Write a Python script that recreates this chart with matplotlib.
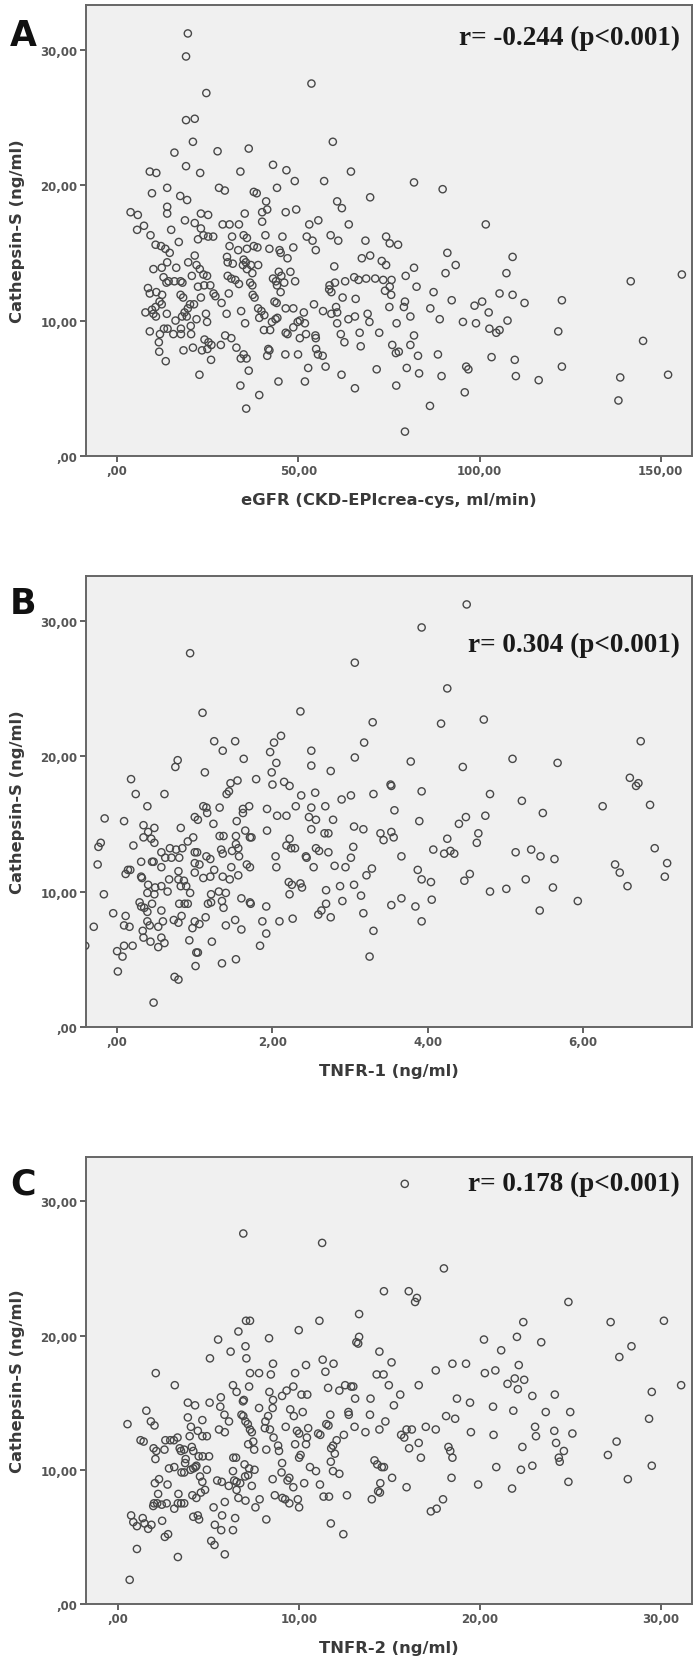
import matplotlib
matplotlib.use("Agg")
import matplotlib.pyplot as plt
from matplotlib.ticker import FuncFormatter

# ---------------------------
# Panel A: eGFR vs Cathepsin-S
# ---------------------------
egfr_a = [
    19.5, 19.0, 53.6, 24.6, 19.0, 21.4, 20.9, 59.5, 36.3, 15.8,
    27.7, 43.0, 19.0, 9.0, 10.8, 22.9, 34.0, 46.7, 64.5, 49.0,
    57.1, 81.9, 89.8, 13.8, 28.1, 29.7, 44.1, 9.6, 37.7, 38.5,
    69.8, 17.4, 19.3, 41.1, 41.4, 60.7, 62.0, 3.7, 5.7, 7.4,
    5.5, 13.8, 13.8, 23.1, 25.1, 35.2, 40.0, 46.5, 49.4, 18.7,
    21.4, 29.1, 31.0, 33.6, 40.0, 53.0, 55.5, 63.9, 101.7, 14.9,
    23.1, 23.8, 9.2, 25.1, 26.5, 31.7, 34.9, 35.8, 40.9, 45.6,
    52.3, 53.9, 58.9, 61.0, 68.5, 74.2, 75.2, 77.5, 17.0, 22.3,
    10.6, 12.1, 13.3, 14.5, 31.0, 33.4, 35.8, 37.7, 38.7, 42.0,
    44.8, 45.1, 48.6, 54.8, 91.1, 109.1, 21.4, 30.3, 30.5, 34.9,
    35.5, 47.0, 67.5, 69.8, 73.0, 74.2, 13.8, 19.6, 21.9, 31.9,
    34.7, 36.9, 38.9, 59.9, 81.9, 93.4, 10.0, 12.3, 16.3, 22.8,
    23.8, 35.8, 37.3, 90.6, 107.4, 155.8, 20.6, 24.8, 30.5, 31.5,
    32.6, 44.6, 45.3, 47.8, 49.1, 12.8, 14.2, 15.8, 17.5, 18.0,
    13.6, 24.0, 25.7, 33.6, 36.7, 37.3, 43.0, 43.8, 46.1, 44.1,
    58.6, 58.5, 59.1, 60.1, 62.9, 65.4, 66.6, 68.7, 71.2, 73.4,
    75.7, 79.6, 75.2, 73.9, 75.6, 82.6, 87.3, 105.5, 109.1, 122.7,
    141.7, 8.5, 9.0, 10.8, 12.4, 17.5, 18.2, 22.3, 26.6, 27.1,
    30.8, 37.4, 37.9, 45.1, 62.2, 65.8, 92.3, 100.7, 98.6, 112.4,
    79.4, 79.1, 43.4, 44.0, 11.7, 12.3, 10.6, 9.6, 20.1, 21.2,
    23.1, 28.8, 38.9, 39.8, 46.5, 48.6, 51.5, 54.3, 56.8, 60.4,
    60.7, 59.1, 65.6, 69.1, 75.1, 86.4, 102.5, 7.8, 10.0, 10.7,
    13.7, 18.6, 19.5, 24.5, 30.2, 34.2, 16.1, 17.9, 19.2, 21.9,
    24.8, 35.3, 39.2, 40.6, 42.7, 43.7, 44.2, 49.8, 50.4, 51.8,
    63.8, 60.7, 69.6, 77.1, 80.9, 89.0, 95.4, 99.0, 107.7, 9.0,
    12.9, 13.9, 11.8, 15.5, 17.6, 17.6, 20.4, 20.3, 29.8, 31.5,
    40.5, 42.2, 46.5, 47.0, 48.6, 50.4, 52.1, 54.7, 54.8, 61.7,
    66.9, 72.3, 81.9, 102.7, 104.6, 105.5, 121.7, 145.1, 11.5, 11.6,
    24.1, 25.2, 26.0, 28.6, 32.9, 41.7, 42.0, 54.9, 62.7, 67.2,
    75.9, 80.9, 18.3, 20.9, 23.4, 24.9, 34.1, 34.9, 35.7, 41.4,
    46.4, 49.9, 55.4, 56.7, 76.9, 77.7, 83.0, 88.5, 103.3, 109.7,
    13.4, 25.9, 57.5, 52.7, 71.6, 79.9, 96.3, 96.9, 122.7, 22.7,
    36.3, 44.5, 51.8, 61.9, 83.3, 89.5, 110.0, 116.3, 138.8, 152.0,
    34.0, 65.6, 77.0, 95.9, 39.2, 138.3, 35.6, 86.3, 79.4,
]
cats_a = [
    31.2, 29.5, 27.5, 26.8, 24.8, 24.9, 23.2, 23.2, 22.7, 22.4,
    22.5, 21.5, 21.4, 21.0, 20.9, 20.9, 21.0, 21.1, 21.0, 20.3,
    20.3, 20.2, 19.7, 19.8, 19.8, 19.6, 19.8, 19.4, 19.5, 19.4,
    19.1, 19.2, 18.9, 18.8, 18.2, 18.8, 18.3, 18.0, 17.8, 17.0,
    16.7, 18.4, 17.9, 17.9, 17.8, 17.9, 18.0, 18.0, 18.2, 17.4,
    17.2, 17.1, 17.1, 17.1, 17.3, 17.1, 17.4, 17.1, 17.1, 16.7,
    16.8, 16.3, 16.3, 16.2, 16.2, 16.2, 16.3, 16.1, 16.3, 16.2,
    16.2, 15.9, 16.3, 15.9, 15.9, 16.2, 15.7, 15.6, 15.8, 16.0,
    15.6, 15.5, 15.3, 15.0, 15.5, 15.2, 15.3, 15.5, 15.4, 15.3,
    15.2, 15.0, 15.4, 15.2, 15.0, 14.7, 14.8, 14.7, 14.3, 14.5,
    14.3, 14.6, 14.6, 14.8, 14.4, 14.1, 14.3, 14.3, 14.1, 14.2,
    14.1, 14.1, 14.1, 14.0, 13.9, 14.1, 13.8, 13.9, 13.9, 13.8,
    13.4, 13.8, 13.5, 13.5, 13.5, 13.4, 13.3, 13.3, 13.3, 13.1,
    13.0, 13.6, 13.3, 13.6, 12.9, 13.2, 12.9, 12.9, 12.9, 12.8,
    12.8, 12.6, 12.6, 12.7, 12.8, 12.6, 13.1, 12.9, 12.8, 12.6,
    12.6, 12.3, 12.1, 12.8, 12.9, 13.2, 13.0, 13.1, 13.1, 13.0,
    13.0, 13.3, 12.5, 12.2, 11.9, 12.5, 12.1, 12.0, 11.9, 11.5,
    12.9, 12.4, 12.0, 12.1, 11.9, 11.9, 11.7, 12.5, 12.0, 11.8,
    12.0, 11.9, 11.7, 12.1, 11.7, 11.6, 11.5, 11.4, 11.1, 11.3,
    11.4, 11.0, 11.4, 11.3, 11.4, 11.2, 11.0, 10.8, 11.2, 11.2,
    11.7, 11.3, 10.9, 10.7, 10.9, 10.9, 10.6, 11.2, 10.7, 11.0,
    10.6, 10.5, 10.3, 10.5, 11.0, 10.9, 10.6, 10.6, 10.5, 10.3,
    10.5, 10.6, 10.9, 10.5, 10.5, 10.7, 10.0, 10.3, 10.3, 10.1,
    9.9, 9.8, 10.2, 10.4, 9.9, 10.1, 10.2, 9.9, 10.0, 9.8,
    10.1, 9.8, 9.9, 9.8, 10.3, 10.1, 9.9, 9.8, 10.0, 9.2,
    9.4, 9.4, 9.0, 9.0, 9.4, 9.0, 9.0, 9.6, 8.9, 8.7,
    9.3, 9.3, 9.1, 9.0, 9.5, 8.7, 9.0, 8.9, 8.7, 9.0,
    9.1, 9.1, 8.9, 9.4, 9.1, 9.3, 9.2, 8.5, 8.4, 7.7,
    8.6, 8.4, 8.2, 8.2, 8.0, 7.9, 7.8, 7.9, 8.4, 8.1,
    8.2, 8.2, 7.8, 8.0, 7.8, 7.9, 7.2, 7.5, 7.2, 7.4,
    7.5, 7.5, 7.5, 7.4, 7.6, 7.7, 7.4, 7.5, 7.3, 7.1,
    7.0, 7.1, 6.6, 6.5, 6.4, 6.5, 6.6, 6.4, 6.6, 6.0,
    6.3, 5.5, 5.5, 6.0, 6.1, 5.9, 5.9, 5.6, 5.8, 6.0,
    5.2, 5.0, 5.2, 4.7, 4.5, 4.1, 3.5, 3.7, 1.8,
]

# ---------------------------
# Panel B: TNFR-1 vs Cathepsin-S
# ---------------------------
tnfr1_b = [
    4.50, 3.92, 0.94, 3.06, 4.25, 1.10, 2.36, 3.29, 4.17, 4.72,
    2.11, 1.25, 1.52, 2.02, 3.18, 6.74, 1.36, 2.50, 1.97, 0.78,
    0.75, 1.63, 3.06, 2.05, 2.50, 3.78, 4.45, 5.09, 5.67, 1.13,
    1.99, 2.75, 0.18, 1.46, 1.55, 1.79, 2.00, 2.15, 2.22, 3.52,
    3.53, 6.60, 6.71, 6.68, 0.24, 0.61, 1.41, 1.44, 2.37, 2.55,
    3.01, 3.30, 3.92, 4.80, 2.89, 5.21, 0.39, 1.11, 1.15, 1.16,
    1.32, 1.62, 1.70, 1.62, 1.93, 2.30, 2.50, 2.68, 3.57, 6.25,
    6.86, -0.16, 0.09, 1.00, 1.04, 1.54, 2.06, 2.18, 2.47, 2.56,
    2.78, 3.89, 4.49, 4.40, 4.74, 5.48, 0.34, 0.48, 0.82, 1.24,
    1.65, 1.93, 2.50, 3.05, 3.17, 3.53, 0.40, 0.34, 0.44, 0.98,
    1.32, 1.37, 1.53, 1.71, 1.73, 2.22, 2.67, 2.72, 3.39, 3.43,
    3.56, 4.25, 4.65, 4.63, -0.21, -0.24, 0.21, 0.48, 0.91, 0.68,
    0.76, 0.84, 0.57, 1.00, 1.03, 1.34, 1.36, 1.48, 1.56, 1.53,
    2.18, 2.24, 2.29, 2.56, 2.60, 2.72, 3.04, 4.07, 4.21, 4.29,
    4.34, 5.13, 5.33, 5.45, 5.63, 6.92, 0.31, 0.45, 0.47, 0.62,
    0.70, 0.80, 1.00, 1.15, 1.20, 1.57, 2.04, 2.43, 2.44, 3.01,
    3.66, -0.25, 0.14, 0.17, 0.11, 0.57, 0.79, 1.06, 1.25, 1.47,
    1.67, 1.71, 2.05, 2.53, 2.80, 2.94, 3.28, 3.87, 6.41, 6.47,
    7.08, 0.31, 0.32, 1.00, 1.11, 1.20, 1.36, 1.45, 1.56, 3.21,
    3.92, 4.54, 4.47, 5.26, 7.05, 0.67, 0.79, 0.86, 0.40, 0.49,
    0.57, 0.82, 0.89, 2.21, 2.25, 2.36, 2.38, 2.87, 3.05, 4.04,
    5.61, 6.57, -0.17, 0.39, 0.48, 0.65, 0.94, 1.21, 1.31, 1.40,
    2.69, 2.22, 3.14, 4.80, 5.01, 0.29, 0.31, 0.35, 0.45, 0.80,
    0.87, 0.91, 1.17, 1.21, 1.35, 1.37, 1.60, 1.71, 1.72, 1.92,
    2.69, 2.90, 3.53, 3.66, 3.84, 4.05, 5.93, -0.05, 0.11, 0.39,
    0.57, 0.83, 1.14, 1.52, 2.26, 2.59, 2.63, 2.75, 3.17, 5.44,
    -0.30, 0.09, 0.16, 0.39, 0.42, 0.59, 0.73, 0.79, 1.00, 1.06,
    1.40, 1.60, 1.87, 2.09, 3.92, 0.33, 0.53, 0.97, 1.92, 3.30,
    0.34, 0.43, 0.57, 0.61, 0.93, 1.22, -0.41, 0.20, 0.09, 0.53,
    1.84, 0.00, 0.07, 1.02, 1.04, 1.35, 1.53, 3.25, 1.01, 0.01,
    0.74, 0.79, 0.47,
]
cats_b = [
    31.2, 29.5, 27.6, 26.9, 25.0, 23.2, 23.3, 22.5, 22.4, 22.7,
    21.5, 21.1, 21.1, 21.0, 21.0, 21.1, 20.4, 20.4, 20.3, 19.7,
    19.2, 19.8, 19.9, 19.5, 19.3, 19.6, 19.2, 19.8, 19.5, 18.8,
    18.8, 18.9, 18.3, 18.0, 18.2, 18.3, 17.9, 18.1, 17.8, 17.9,
    17.8, 18.4, 18.0, 17.8, 17.2, 17.2, 17.2, 17.4, 17.1, 17.3,
    17.1, 17.2, 17.4, 17.2, 16.8, 16.7, 16.3, 16.3, 16.2, 15.8,
    16.2, 16.1, 16.3, 15.8, 16.1, 16.3, 16.2, 16.3, 16.0, 16.3,
    16.4, 15.4, 15.2, 15.5, 15.3, 15.2, 15.6, 15.6, 15.5, 15.3,
    15.3, 15.2, 15.5, 15.0, 15.6, 15.8, 14.9, 14.7, 14.7, 15.0,
    14.5, 14.5, 14.6, 14.8, 14.6, 14.4, 14.4, 14.0, 13.9, 14.0,
    14.1, 14.1, 14.1, 14.0, 14.0, 13.9, 14.3, 14.3, 14.3, 13.8,
    14.0, 13.9, 14.3, 13.6, 13.6, 13.3, 13.4, 13.6, 13.7, 13.2,
    13.1, 13.2, 12.9, 12.9, 12.9, 13.1, 12.8, 13.0, 13.2, 13.5,
    13.4, 13.2, 13.2, 13.2, 13.0, 12.9, 13.3, 13.1, 12.8, 13.0,
    12.8, 12.9, 13.1, 12.6, 12.4, 13.2, 12.2, 12.2, 12.2, 12.5,
    12.5, 12.5, 12.1, 12.6, 12.4, 12.6, 12.6, 12.6, 12.5, 12.5,
    12.6, 12.0, 11.6, 11.6, 11.3, 11.8, 11.5, 12.0, 11.6, 11.8,
    12.0, 11.8, 11.8, 11.8, 11.9, 11.8, 11.7, 11.6, 12.0, 11.4,
    12.1, 11.1, 11.0, 11.4, 11.0, 11.1, 11.1, 10.9, 11.2, 11.2,
    10.9, 11.3, 10.8, 10.9, 11.1, 10.9, 10.9, 10.8, 10.5, 10.3,
    10.4, 10.4, 10.4, 10.7, 10.5, 10.6, 10.3, 10.4, 10.5, 10.7,
    10.3, 10.4, 9.8, 9.9, 9.8, 10.0, 9.9, 9.8, 10.0, 9.9,
    10.1, 9.8, 9.7, 10.0, 10.2, 9.2, 8.9, 8.8, 9.1, 9.1,
    9.1, 9.1, 9.1, 9.2, 9.3, 8.8, 9.5, 9.2, 9.1, 8.9,
    9.1, 9.3, 9.0, 9.5, 8.9, 9.4, 9.3, 8.4, 8.2, 8.5,
    8.6, 8.2, 8.1, 7.9, 8.0, 8.3, 8.6, 8.1, 8.4, 8.6,
    7.4, 7.5, 7.4, 7.8, 7.5, 7.8, 7.9, 7.7, 7.8, 7.6,
    7.5, 7.2, 7.8, 7.8, 7.8, 7.1, 7.4, 7.3, 6.9, 7.1,
    6.6, 6.3, 6.6, 6.2, 6.4, 6.3, 6.0, 6.0, 6.0, 5.9,
    6.0, 5.6, 5.2, 5.5, 5.5, 4.7, 5.0, 5.2, 4.5, 4.1,
    3.7, 3.5, 1.8,
]

# ---------------------------
# Panel C: TNFR-2 vs Cathepsin-S
# ---------------------------
tnfr2_c = [
    15.85, 6.94, 11.29, 18.01, 14.70, 16.07, 16.52, 16.42, 24.88, 13.33,
    7.09, 7.31, 11.14, 22.39, 27.21, 30.15, 10.00, 6.67, 5.55, 8.36,
    13.33, 13.18, 13.28, 20.22, 22.04, 23.38, 7.06, 6.24, 14.45, 21.17,
    28.36, 27.69, 5.10, 7.11, 11.32, 11.92, 8.58, 10.40, 15.12, 18.48,
    19.23, 22.14, 2.11, 7.31, 7.81, 8.46, 9.80, 11.47, 14.30, 14.68,
    17.56, 20.27, 20.85, 21.92, 22.44, 21.52, 22.09, 3.16, 6.37, 7.26,
    9.70, 11.62, 12.56, 12.89, 13.01, 14.97, 16.62, 31.10, 6.57, 9.33,
    12.24, 10.15, 10.47, 15.60, 24.13, 22.89, 5.70, 6.97, 6.92, 8.38,
    8.58, 9.08, 13.11, 13.96, 18.73, 29.48, 3.88, 4.28, 5.08, 19.45,
    15.25, 5.67, 20.72, 1.59, 7.81, 8.56, 9.53, 5.90, 6.84, 6.94,
    8.31, 9.73, 10.22, 11.74, 12.74, 12.76, 13.93, 18.13, 21.84, 23.63,
    24.98, 29.33, 3.88, 4.68, 1.84, 2.04, 0.55, 6.15, 7.06, 7.19,
    8.16, 11.52, 11.64, 13.08, 14.78, 18.63, 4.05, 9.28, 17.01, 23.04,
    4.43, 5.60, 5.92, 7.31, 7.41, 8.13, 8.41, 9.90, 10.02, 10.52,
    11.07, 11.19, 13.68, 14.45, 15.95, 16.24, 17.56, 19.50, 24.10, 25.10,
    15.65, 15.82, 4.93, 4.68, 3.98, 8.61, 10.45, 12.49, 20.75, 23.09,
    1.27, 1.44, 2.64, 2.91, 3.11, 3.31, 12.09, 27.54, 24.20, 16.62,
    7.49, 7.21, 8.86, 9.80, 10.40, 11.89, 11.79, 1.99, 2.14, 2.09,
    2.59, 3.43, 3.50, 3.68, 4.10, 4.18, 7.54, 8.21, 8.91, 16.09,
    18.26, 18.36, 18.48, 22.34, 24.63, 11.99, 27.06, 4.48, 4.70, 5.05,
    6.39, 6.54, 10.02, 10.10, 16.74, 24.35, 24.40, 14.18, 14.33, 14.58,
    14.70, 11.77, 3.76, 3.73, 4.30, 4.18, 4.35, 4.03, 3.53, 3.68,
    2.84, 3.13, 4.93, 6.37, 7.01, 7.26, 7.56, 9.08, 10.62, 10.95,
    11.89, 12.24, 20.90, 22.26, 22.89, 29.48, 9.05, 4.55, 4.68, 2.29,
    2.06, 2.76, 5.50, 5.75, 6.44, 6.57, 6.77, 7.04, 7.21, 7.41,
    8.56, 9.48, 9.38, 9.70, 10.30, 11.17, 14.50, 15.15, 18.43, 19.90,
    24.88, 28.16, 4.83, 6.57, 6.14, 15.95, 21.77, 2.24, 3.36, 4.13,
    4.35, 4.60, 8.68, 9.10, 9.25, 9.95, 11.37, 11.67, 12.66, 14.03,
    14.38, 14.48, 7.84, 6.67, 7.06, 2.01, 2.19, 1.97, 2.44, 2.71,
    3.33, 3.51, 3.68, 3.13, 5.30, 5.92, 7.61, 9.48, 10.02, 17.96,
    17.29, 17.61, 0.75, 1.39, 0.87, 1.07, 1.49, 1.69, 1.87, 2.46,
    4.18, 4.43, 4.50, 5.77, 6.49, 5.37, 5.72, 6.37, 8.21, 11.77,
    2.61, 2.79, 5.17, 5.35, 12.46, 1.07, 3.33, 5.92, 0.67,
]
cats_c = [
    31.3, 27.6, 26.9, 25.0, 23.3, 23.3, 22.8, 22.5, 22.5, 21.6,
    21.1, 21.1, 21.1, 21.0, 21.0, 21.1, 20.4, 20.3, 19.7, 19.8,
    19.9, 19.5, 19.4, 19.7, 19.9, 19.5, 19.2, 18.8, 18.8, 18.9,
    19.2, 18.4, 18.3, 18.3, 18.2, 17.9, 17.9, 17.8, 18.0, 17.9,
    17.9, 17.8, 17.2, 17.2, 17.2, 17.1, 17.2, 17.3, 17.1, 17.1,
    17.4, 17.2, 17.4, 16.8, 16.7, 16.4, 16.0, 16.3, 16.3, 16.2,
    16.2, 16.1, 16.3, 16.2, 16.2, 16.3, 16.3, 16.3, 15.8, 15.9,
    15.9, 15.6, 15.6, 15.6, 15.6, 15.5, 15.4, 15.2, 15.1, 15.8,
    15.2, 15.5, 15.3, 15.3, 15.3, 15.8, 15.0, 14.8, 15.0, 15.0,
    14.8, 14.7, 14.7, 14.4, 14.6, 14.6, 14.5, 14.1, 14.1, 14.0,
    14.0, 14.0, 14.3, 14.1, 14.3, 14.1, 14.1, 14.0, 14.4, 14.3,
    14.3, 13.8, 13.9, 13.7, 13.6, 13.3, 13.4, 13.6, 13.6, 13.4,
    13.6, 13.4, 13.3, 13.2, 13.6, 13.8, 13.2, 13.2, 13.2, 13.2,
    12.9, 13.0, 12.8, 13.0, 12.8, 13.1, 13.0, 12.9, 12.7, 13.1,
    12.7, 12.6, 12.8, 13.0, 13.0, 13.0, 13.0, 12.8, 12.9, 12.7,
    12.6, 12.4, 12.5, 12.5, 12.5, 12.4, 12.4, 12.6, 12.6, 12.5,
    12.2, 12.1, 12.2, 12.2, 12.2, 12.4, 12.2, 12.1, 12.0, 12.0,
    12.1, 11.9, 11.8, 11.9, 11.9, 11.8, 11.6, 11.6, 11.4, 10.8,
    11.5, 11.6, 11.4, 11.5, 11.7, 11.4, 11.5, 11.5, 11.4, 11.6,
    11.7, 11.4, 10.9, 11.7, 11.4, 11.2, 11.1, 11.0, 11.0, 11.0,
    10.9, 10.9, 10.9, 11.1, 10.9, 10.9, 10.6, 10.7, 10.4, 10.2,
    10.2, 10.6, 10.8, 10.5, 10.2, 10.1, 10.3, 10.0, 9.8, 9.8,
    10.1, 10.2, 10.0, 9.9, 10.4, 10.1, 10.0, 10.5, 10.2, 9.9,
    9.9, 9.7, 10.2, 10.0, 10.3, 10.3, 9.8, 9.5, 9.1, 9.3,
    9.0, 8.9, 9.2, 9.1, 9.2, 9.1, 9.0, 9.5, 9.6, 8.8,
    9.3, 9.4, 9.2, 8.7, 9.0, 8.9, 9.0, 9.4, 9.4, 8.9,
    9.1, 9.3, 8.5, 8.5, 8.8, 8.7, 8.6, 8.2, 8.2, 8.1,
    7.9, 8.3, 8.1, 7.9, 7.8, 7.8, 8.0, 8.0, 8.1, 7.8,
    8.4, 8.3, 7.8, 7.9, 7.7, 7.5, 7.5, 7.3, 7.4, 7.5,
    7.5, 7.5, 7.5, 7.1, 7.2, 7.6, 7.2, 7.5, 7.2, 7.8,
    6.9, 7.1, 6.6, 6.4, 6.1, 5.8, 6.0, 5.6, 5.9, 6.2,
    6.5, 6.6, 6.3, 6.6, 6.4, 5.9, 5.5, 5.5, 6.3, 6.0,
    5.0, 5.2, 4.7, 4.4, 5.2, 4.1, 3.5, 3.7, 1.8,
]

# axis settings per panel
x_ticks_a = [0, 50, 100, 150]
x_ticks_b = [0, 2, 4, 6]
x_ticks_c = [0, 10, 20, 30]
y_ticks = [0, 10, 20, 30]

x_labels = ["eGFR (CKD-EPIcrea-cys, ml/min)", "TNFR-1 (ng/ml)", "TNFR-2 (ng/ml)"]
y_label = "Cathepsin-S (ng/ml)"
r_texts = ["r= -0.244 (p<0.001)", "r= 0.304 (p<0.001)", "r= 0.178 (p<0.001)"]
panel_letters = ["A", "B", "C"]

W, H = 700, 1665
SANS = ["Liberation Sans Narrow", "DejaVu Sans"]
GREY = "#555555"


def comma_fmt(v, _pos):
    # SPSS style: 10,00 and ,00
    s = f"{v:.2f}".replace(".", ",")
    if s.startswith("0,"):
        s = s[1:]
    return s


fig = plt.figure(figsize=(W / 100, H / 100), dpi=100)
fig.patch.set_facecolor("white")

# pixel boxes: left, top, right, bottom
boxes = [(86, 6, 692, 457), (86, 577, 692, 1028), (86, 1158, 692, 1605)]
xlims = [(-8.6, 158.6), (-0.40, 7.40), (-1.74, 31.7)]
xticks = [x_ticks_a, x_ticks_b, x_ticks_c]
data = [(egfr_a, cats_a), (tnfr1_b, cats_b), (tnfr2_c, cats_c)]
r_pos = [(0.98, 0.929), (0.98, 0.849), (0.98, 0.94)]
letter_y = [36, 604, 1185]

for i in range(3):
    l, t, r, b = boxes[i]
    ax = fig.add_axes([l / W, 1 - b / H, (r - l) / W, (b - t) / H])
    ax.set_facecolor("#f0f0f0")
    xs, ys = data[i]
    ax.scatter(xs, ys, s=27, facecolors="none", edgecolors="#484848",
               linewidths=1.0, zorder=3)
    ax.set_xlim(*xlims[i])
    ax.set_ylim(0, 33.3)
    ax.set_xticks(xticks[i])
    ax.set_yticks(y_ticks)
    ax.xaxis.set_major_formatter(FuncFormatter(comma_fmt))
    ax.yaxis.set_major_formatter(FuncFormatter(comma_fmt))
    ax.tick_params(direction="out", length=4, width=1.3, color=GREY,
                   labelcolor=GREY, labelsize=8.5, pad=2)
    for lab in ax.get_xticklabels() + ax.get_yticklabels():
        lab.set_family(SANS)
        lab.set_fontweight("bold")
    for sp in ax.spines.values():
        sp.set_color("#666666")
        sp.set_linewidth(1.4)

    ax.set_xlabel(x_labels[i], fontsize=11.8, fontweight="bold", color="#3a3a3a",
                  family=SANS)
    ax.set_ylabel(y_label, fontsize=11.8, fontweight="bold", color="#3a3a3a",
                  family=SANS)
    ax.xaxis.set_label_coords(0.5, -0.080)
    ax.yaxis.set_label_coords(-0.100, 0.5)

    ax.text(r_pos[i][0], r_pos[i][1], r_texts[i], transform=ax.transAxes,
            ha="right", va="center", fontsize=19.5, fontweight="bold",
            family=["Liberation Serif", "DejaVu Serif"], color="#1a1a1a")

    fig.text(10 / W, 1 - letter_y[i] / H, panel_letters[i], ha="left",
             va="center", fontsize=25, fontweight="bold", family=SANS,
             color="#111111")

fig.savefig("out.png", dpi=100, facecolor="white")
